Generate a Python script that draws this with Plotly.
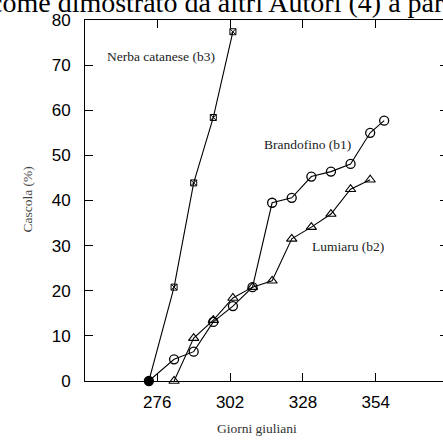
import plotly.graph_objects as go

# Data (Julian days, % fruit drop)
b3_days = [273, 282, 289, 296, 303]
b3_vals = [0, 20.8, 43.9, 58.4, 77.4]

b1_days = [273, 282, 289, 296, 303, 310, 317, 324, 331, 338, 345, 352, 357]
b1_vals = [0, 4.8, 6.5, 13.1, 16.6, 20.8, 39.5, 40.6, 45.3, 46.4, 48.1, 55.0, 57.7]

b2_days = [282, 289, 296, 303, 310, 317, 324, 331, 338, 345, 352]
b2_vals = [0, 9.5, 13.5, 18.4, 20.8, 22.2, 31.5, 34.1, 37.0, 42.5, 44.6]

x_ticks = [276, 302, 328, 354]
y_ticks = [0, 10, 20, 30, 40, 50, 60, 70, 80]

labels = ["Nerba catanese (b3)", "Brandofino (b1)", "Lumiaru (b2)"]
label_pos = [(277.3, 71.9), (329.5, 52.4), (344.1, 29.7)]

W, H = 443, 444
L, R, T, B = 85, 0, 20, 63

serif = "Liberation Serif, Times New Roman, serif"
sans = "Liberation Sans, Arial, sans-serif"

fig = go.Figure()

fig.add_trace(go.Scatter(
    x=b3_days, y=b3_vals, mode="lines+markers",
    line=dict(color="black", width=1.1),
    marker=dict(symbol="square-x-open", size=6, color="black", line=dict(width=1)),
    showlegend=False, cliponaxis=False))

b1_symbols = ["circle"] + ["circle-open"] * (len(b1_days) - 1)
fig.add_trace(go.Scatter(
    x=b1_days, y=b1_vals, mode="lines+markers",
    line=dict(color="black", width=1.1),
    marker=dict(symbol=b1_symbols, size=9, color="black", line=dict(width=1.3, color="black")),
    showlegend=False, cliponaxis=False))

fig.add_trace(go.Scatter(
    x=b2_days, y=b2_vals, mode="lines+markers",
    line=dict(color="black", width=1.1),
    marker=dict(symbol="triangle-up-open", size=9, color="black", line=dict(width=1.1)),
    showlegend=False, cliponaxis=False))

# dummy trace for right tick axis
fig.add_trace(go.Scatter(x=[], y=[], yaxis="y2", showlegend=False))

for txt, (lx, ly) in zip(labels, label_pos):
    fig.add_annotation(x=lx, y=ly, xref="x", yref="y", text=txt, showarrow=False,
                       font=dict(family=serif, size=13.5, color="#222"))

plot_h = H - T - B
plot_w = W - L - R

# Axis titles
fig.add_annotation(x=(17 - L) / plot_w, y=1 - (200 - T) / plot_h, xref="paper", yref="paper",
                   text="Cascola (%)", textangle=-90, showarrow=False,
                   font=dict(family=serif, size=13.5, color="#444"))
fig.add_annotation(x=(257 - L) / plot_w, y=1 - (438 - T) / plot_h, xref="paper", yref="paper",
                   text="Giorni giuliani", showarrow=False,
                   font=dict(family=serif, size=13.5, color="#333"))

# Cropped running text at top of the scanned page
fig.add_annotation(x=(-12 - L) / plot_w, y=1 + (T - 2) / plot_h, xref="paper", yref="paper",
                   xanchor="left", yanchor="middle",
                   text="come dimostrato da altri Autori (4) a partire",
                   showarrow=False, font=dict(family=serif, size=28, color="black"))

fig.update_layout(
    width=W, height=H,
    margin=dict(l=L, r=R, t=T, b=B, pad=0),
    paper_bgcolor="white", plot_bgcolor="white",
    xaxis=dict(range=[250.2, 378], tickvals=x_ticks, ticks="inside", ticklen=8,
               tickcolor="black", showline=True, linecolor="black", linewidth=1,
               mirror="ticks", showgrid=False, zeroline=False,
               tickfont=dict(family=sans, size=17, color="black"), ticklabelstandoff=6),
    yaxis=dict(range=[0, 80], tickvals=y_ticks, ticks="inside", ticklen=8,
               tickcolor="black", showline=True, linecolor="black", linewidth=1,
               mirror=False, showgrid=False, zeroline=False,
               tickfont=dict(family=sans, size=17, color="black"), ticklabelstandoff=10),
    yaxis2=dict(range=[0, 80], tickvals=y_ticks[1:-1], overlaying="y", side="right",
                ticks="inside", ticklen=3, tickcolor="black", showline=False,
                showticklabels=False, showgrid=False, zeroline=False),
)

fig.write_html("out.html", config={"displayModeBar": False},
               post_script="document.body.style.margin='0';document.body.style.overflow='hidden';")
